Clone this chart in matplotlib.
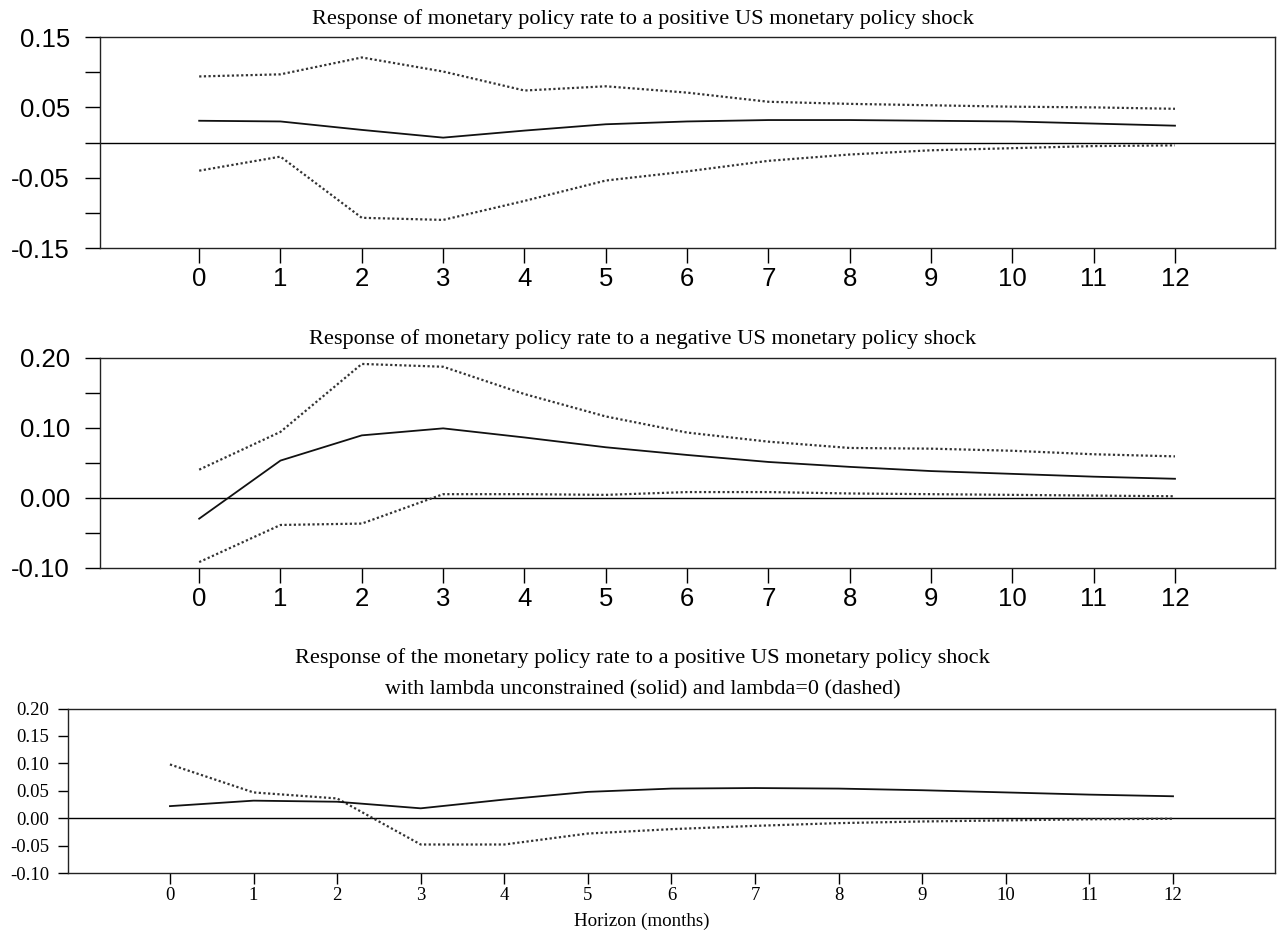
import matplotlib
matplotlib.use("Agg")
import matplotlib.pyplot as plt
from matplotlib.ticker import FixedLocator, FixedFormatter

horizon = list(range(13))

# Panel 1: positive US monetary policy shock (median and bands)
pos_median = [0.031, 0.030, 0.018, 0.007, 0.017, 0.026, 0.030, 0.032, 0.032, 0.031, 0.030, 0.027, 0.024]
pos_upper = [0.094, 0.097, 0.121, 0.101, 0.074, 0.080, 0.071, 0.058, 0.055, 0.053, 0.051, 0.050, 0.048]
pos_lower = [-0.040, -0.020, -0.107, -0.110, -0.083, -0.054, -0.041, -0.026, -0.017, -0.011, -0.008, -0.005, -0.004]

# Panel 2: negative US monetary policy shock (median and bands)
neg_median = [-0.030, 0.053, 0.089, 0.099, 0.086, 0.072, 0.061, 0.051, 0.044, 0.038, 0.034, 0.030, 0.027]
neg_upper = [0.040, 0.094, 0.191, 0.187, 0.148, 0.116, 0.093, 0.080, 0.071, 0.070, 0.067, 0.062, 0.059]
neg_lower = [-0.092, -0.039, -0.037, 0.005, 0.005, 0.004, 0.008, 0.008, 0.006, 0.005, 0.004, 0.003, 0.002]

# Panel 3: lambda unconstrained vs lambda = 0
lam_free = [0.022, 0.032, 0.030, 0.018, 0.034, 0.048, 0.054, 0.055, 0.054, 0.051, 0.047, 0.043, 0.040]
lam_zero = [0.098, 0.047, 0.036, -0.048, -0.048, -0.028, -0.020, -0.014, -0.009, -0.006, -0.004, -0.002, -0.001]

titles = [
    "Response of monetary policy rate to a positive US monetary policy shock",
    "Response of monetary policy rate to a negative US monetary policy shock",
    "Response of the monetary policy rate to a positive US monetary policy shock",
    "with lambda unconstrained (solid) and lambda=0 (dashed)",
]
xlabel = "Horizon (months)"

top_major = [-0.15, -0.05, 0.05, 0.15]
top_minor = [-0.10, 0.00, 0.10]
top_labels = ["-0.15", "-0.05", "0.05", "0.15"]
mid_major = [-0.10, 0.00, 0.10, 0.20]
mid_minor = [-0.05, 0.05, 0.15]
mid_labels = ["-0.10", "0.00", "0.10", "0.20"]
bot_ticks = [-0.10, -0.05, 0.00, 0.05, 0.10, 0.15, 0.20]
bot_labels = ["-0.10", "-0.05", "0.00", "0.05", "0.10", "0.15", "0.20"]

SANS = "Liberation Sans"
SERIF = "Liberation Serif"
DOT = (0, (1.0, 1.1))
DOT_COLOR = "#333333"

fig = plt.figure(figsize=(12.8, 9.36), dpi=100)

ax1 = fig.add_axes([0.0781, 0.7350, 0.9180, 0.2254])
ax2 = fig.add_axes([0.0781, 0.3935, 0.9180, 0.2244])
ax3 = fig.add_axes([0.0531, 0.0673, 0.9430, 0.1757])


def style_big(ax, ylim, major, minor, labels):
    ax.set_xlim(-1.22, 13.23)
    ax.set_ylim(*ylim)
    ax.axhline(0, color="black", lw=1.0, zorder=1)
    ax.set_xticks(horizon)
    ax.set_xticklabels([str(h) for h in horizon], family=SANS, fontsize=18.5)
    ax.yaxis.set_major_locator(FixedLocator(major))
    ax.yaxis.set_major_formatter(FixedFormatter(labels))
    ax.yaxis.set_minor_locator(FixedLocator(minor))
    for lab in ax.get_yticklabels():
        lab.set_family(SANS)
        lab.set_fontsize(18.5)
    ax.tick_params(axis="x", direction="out", length=11, width=1.0, pad=3, color="black")
    ax.tick_params(axis="y", which="both", direction="out", length=10.5, width=1.0, pad=11)
    for sp in ax.spines.values():
        sp.set_linewidth(1.0)
        sp.set_color("#222222")


def draw_band(ax, med, up, lo):
    ax.plot(horizon, up, linestyle=DOT, color=DOT_COLOR, lw=1.6)
    ax.plot(horizon, lo, linestyle=DOT, color=DOT_COLOR, lw=1.6)
    ax.plot(horizon, med, color="#111111", lw=1.3)


style_big(ax1, (-0.15, 0.15), top_major, top_minor, top_labels)
draw_band(ax1, pos_median, pos_upper, pos_lower)

style_big(ax2, (-0.10, 0.20), mid_major, mid_minor, mid_labels)
draw_band(ax2, neg_median, neg_upper, neg_lower)

# Bottom panel
ax3.set_xlim(-1.22, 13.22)
ax3.set_ylim(-0.10, 0.20)
ax3.axhline(0, color="black", lw=1.0, zorder=1)
ax3.plot(horizon, lam_zero, linestyle=DOT, color=DOT_COLOR, lw=1.6)
ax3.plot(horizon, lam_free, color="#111111", lw=1.3)
ax3.set_xticks(horizon)
ax3.set_xticklabels([str(h) for h in horizon], family=SERIF, fontsize=13.5)
ax3.set_yticks(bot_ticks)
ax3.set_yticklabels(bot_labels, family=SERIF, fontsize=13.5)
ax3.tick_params(axis="x", direction="out", length=8, width=1.0, pad=2)
ax3.tick_params(axis="y", direction="out", length=7.5, width=1.0, pad=6)
for sp in ax3.spines.values():
    sp.set_linewidth(1.0)
    sp.set_color("#222222")

fig.text(0.502, 1 - 19 / 936, titles[0], family=SERIF, fontsize=16.1, ha="center", va="center")
fig.text(0.502, 1 - 339 / 936, titles[1], family=SERIF, fontsize=16.1, ha="center", va="center")
fig.text(0.502, 1 - 658 / 936, titles[2], family=SERIF, fontsize=16.1, ha="center", va="center")
fig.text(0.502, 1 - 690 / 936, titles[3], family=SERIF, fontsize=15.9, ha="center", va="center")
fig.text(0.501, 1 - 921 / 936, xlabel, family=SERIF, fontsize=13.7, ha="center", va="center")

fig.savefig("out.png", dpi=100, facecolor="white")
